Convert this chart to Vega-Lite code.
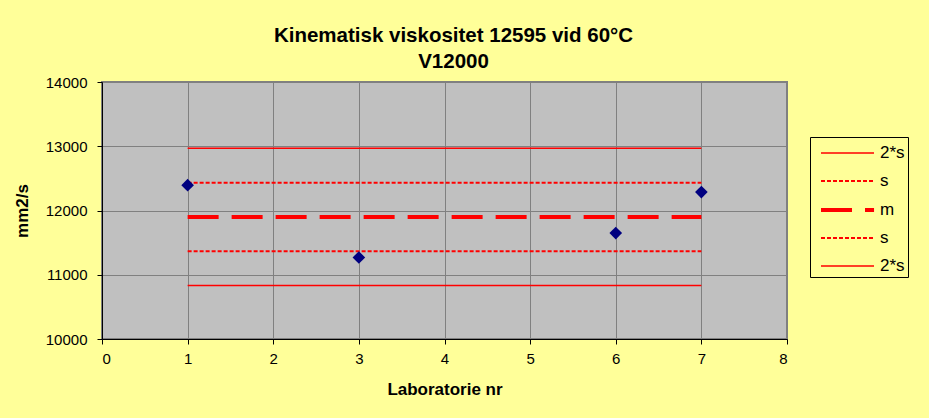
{
  "$schema": "https://vega.github.io/schema/vega-lite/v6.json",
  "width": 685,
  "height": 257,
  "autosize": {"type": "none"},
  "padding": {"left": 102, "top": 82, "right": 142, "bottom": 79},
  "background": "#FFFF99",
  "title": {
    "text": ["Kinematisk viskositet 12595 vid 60°C", "V12000"],
    "font": "Liberation Sans",
    "fontSize": 20.5,
    "fontWeight": "bold",
    "color": "#000000",
    "anchor": "middle",
    "lineHeight": 26,
    "offset": 3,
    "dx": 9
  },
  "config": {
    "view": {"fill": "#C0C0C0", "stroke": "#808080", "strokeWidth": 2},
    "axis": {
      "labelFont": "Liberation Sans",
      "labelFontSize": 15,
      "labelColor": "#000000",
      "titleFont": "Liberation Sans",
      "titleFontSize": 17,
      "titleFontWeight": "bold",
      "titleColor": "#000000",
      "domainColor": "#000000",
      "domainWidth": 1,
      "tickColor": "#000000",
      "tickSize": 5,
      "gridColor": "#808080",
      "gridWidth": 1,
      "gridOpacity": 1
    },
    "legend": {
      "labelFont": "Liberation Sans",
      "labelFontSize": 17,
      "labelColor": "#000000",
      "title": null,
      "orient": "none",
      "legendX": 708,
      "legendY": 55,
      "symbolType": "M-0.5,0H3.92",
      "symbolSize": 576,
      "strokeColor": "#000000",
      "fillColor": "#FFFF99",
      "padding": 3,
      "rowPadding": 7,
      "labelOffset": 39
    }
  },
  "datasets": {
    "points": [
      {"lab": 1, "value": 12394},
      {"lab": 3, "value": 11269},
      {"lab": 6, "value": 11648},
      {"lab": 7, "value": 12286}
    ],
    "lines": [
      {"series": "2*s ", "lab": 1, "value": 12967},
      {"series": "2*s ", "lab": 7, "value": 12967},
      {"series": "s ", "lab": 1, "value": 12433},
      {"series": "s ", "lab": 7, "value": 12433},
      {"series": "m", "lab": 1, "value": 11899},
      {"series": "m", "lab": 7, "value": 11899},
      {"series": "s", "lab": 1, "value": 11365},
      {"series": "s", "lab": 7, "value": 11365},
      {"series": "2*s", "lab": 1, "value": 10831},
      {"series": "2*s", "lab": 7, "value": 10831}
    ]
  },
  "layer": [
    {
      "data": {"name": "lines"},
      "mark": {"type": "line", "strokeCap": "butt"},
      "encoding": {
        "x": {
          "field": "lab",
          "type": "quantitative",
          "scale": {"domain": [0, 8], "nice": false},
          "axis": {
            "title": "Laboratorie nr",
            "values": [0, 1, 2, 3, 4, 5, 6, 7, 8],
            "format": "d",
            "labelPadding": 7,
            "titlePadding": 15
          }
        },
        "y": {
          "field": "value",
          "type": "quantitative",
          "scale": {"domain": [10000, 14000], "nice": false, "zero": false},
          "axis": {
            "title": "mm2/s",
            "values": [10000, 11000, 12000, 13000, 14000],
            "format": "d",
            "labelPadding": 10,
            "titlePadding": 14
          }
        },
        "detail": {"field": "series"},
        "color": {
          "field": "series",
          "type": "nominal",
          "scale": {
            "domain": ["2*s ", "s ", "m", "s", "2*s"],
            "range": ["#FF0000", "#FF0000", "#FF0000", "#FF0000", "#FF0000"]
          },
          "legend": {"title": null, "labelExpr": "trim(datum.label) + '\u00a0\u00a0\u00a0'"}
        },
        "strokeDash": {
          "field": "series",
          "type": "nominal",
          "scale": {
            "domain": ["2*s ", "s ", "m", "s", "2*s"],
            "range": [[1, 0], [4, 2], [31, 13], [4, 2], [1, 0]]
          },
          "legend": {"title": null, "labelExpr": "trim(datum.label) + '\u00a0\u00a0\u00a0'"}
        },
        "strokeWidth": {
          "field": "series",
          "type": "nominal",
          "scale": {
            "type": "ordinal",
            "domain": ["2*s ", "s ", "m", "s", "2*s"],
            "range": [1.5, 2, 4, 2, 1.5]
          },
          "legend": {"title": null, "labelExpr": "trim(datum.label) + '\u00a0\u00a0\u00a0'"}
        }
      }
    },
    {
      "data": {"name": "points"},
      "mark": {"type": "point", "shape": "diamond", "filled": true, "size": 160, "color": "#000080", "opacity": 1},
      "encoding": {
        "x": {"field": "lab", "type": "quantitative"},
        "y": {"field": "value", "type": "quantitative"}
      }
    }
  ]
}
